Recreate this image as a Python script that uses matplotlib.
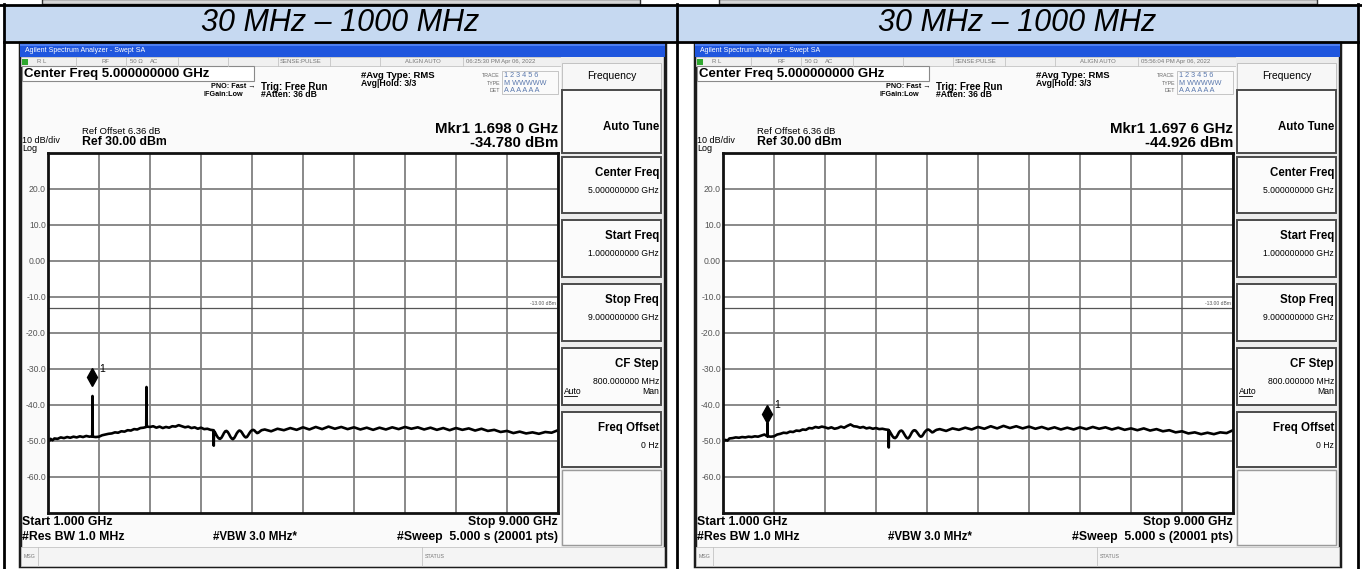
import numpy as np
import matplotlib
matplotlib.use('Agg')
import matplotlib.pyplot as plt
from matplotlib.patches import Rectangle

plt.rcParams['font.family'] = ['Liberation Sans', 'DejaVu Sans']

W, H = 1362, 569

header_text = '30 MHz \u2013 1000 MHz'
start_ghz, stop_ghz = 1.0, 9.0
ref_level, bottom_level = 30.0, -70.0
limit_line = -13.0
y_tick_values = [20, 10, 0, -10, -20, -30, -40, -50, -60]
y_tick_labels = ['20.0', '10.0', '0.00', '-10.0', '-20.0', '-30.0', '-40.0', '-50.0', '-60.0']

softkey_titles = ['Auto Tune', 'Center Freq', 'Start Freq', 'Stop Freq', 'CF Step', 'Freq Offset']
softkey_values = ['', '5.000000000 GHz', '1.000000000 GHz', '9.000000000 GHz', '800.000000 MHz', '0 Hz']

timestamps = ['06:25:30 PM Apr 06, 2022', '05:56:04 PM Apr 06, 2022']
mkr_freq_text = ['Mkr1 1.698 0 GHz', 'Mkr1 1.697 6 GHz']
mkr_level_text = ['-34.780 dBm', '-44.926 dBm']
mkr_freq = [1.6980, 1.6976]
mkr_level = [-34.780, -44.926]

# frequencies shared by both traces (GHz)
freq_low = [1.00, 1.02, 1.04, 1.07, 1.10, 1.15, 1.20, 1.25, 1.30, 1.35, 1.40, 1.45, 1.50, 1.55,
            1.60, 1.65, 1.694, 1.698, 1.702]
freq_ripple = [3.604, 3.62, 3.64, 3.66, 3.68, 3.70, 3.72, 3.74, 3.76, 3.78, 3.80, 3.82, 3.84, 3.86,
               3.88, 3.90, 3.92, 3.94, 3.96, 3.98, 4.00, 4.02, 4.04, 4.06, 4.08, 4.10, 4.12, 4.14,
               4.16, 4.18, 4.20, 4.22, 4.24, 4.26, 4.28, 4.30, 4.32, 4.35]
freq_high = [4.40, 4.50, 4.60, 4.70, 4.80, 4.90, 5.00, 5.10, 5.20, 5.30, 5.40, 5.50, 5.60, 5.70,
             5.80, 5.90, 6.00, 6.10, 6.20, 6.30, 6.40, 6.50, 6.60, 6.70, 6.80, 6.90, 7.00, 7.10,
             7.20, 7.30, 7.40, 7.50, 7.60, 7.70, 7.80, 7.90, 8.00, 8.10, 8.20, 8.30, 8.40, 8.50,
             8.60, 8.70, 8.80, 8.90, 9.00]

# left screenshot trace (dBm)
left_mid_freq = [1.75, 1.80, 1.85, 1.90, 1.95, 2.00, 2.05, 2.10, 2.15, 2.20, 2.25, 2.30, 2.35, 2.40,
                 2.45, 2.50, 2.541, 2.545, 2.549, 2.60, 2.65, 2.70, 2.75, 2.80, 2.85, 2.90, 2.95,
                 3.00, 3.05, 3.10, 3.15, 3.20, 3.25, 3.30, 3.35, 3.40, 3.45, 3.50, 3.55, 3.596, 3.600]
left_low = [-49.3, -50.0, -49.4, -49.8, -49.3, -49.4, -49.0, -49.2, -48.9, -49.1, -48.8, -49.0, -48.7, -48.9,
            -48.6, -48.8, -48.7, -37.5, -48.8]
left_mid = [-48.9, -48.8, -48.4, -48.2, -48.0, -47.9, -47.6, -47.7, -47.3, -47.4, -47.0, -47.1, -46.7, -46.8,
            -46.4, -46.3, -46.1, -35.0, -46.0, -46.1, -45.9, -46.3, -46.0, -46.4, -46.1, -46.3, -45.9,
            -46.0, -45.6, -45.9, -46.2, -46.0, -46.4, -46.2, -46.6, -46.3, -46.7, -46.6, -46.9, -47.0, -51.3]
left_ripple = [-47.2, -47.6, -48.3, -48.9, -49.3, -49.4, -49.1, -48.5, -47.8, -47.3, -47.2, -47.5, -48.1, -48.8,
               -49.3, -49.5, -49.2, -48.6, -47.9, -47.4, -47.1, -47.2, -47.6, -48.2, -48.7, -49.0, -48.9, -48.4,
               -47.8, -47.3, -47.0, -46.9, -47.1, -47.5, -47.8, -47.7, -47.4, -47.0]
left_high = [-46.8, -47.3, -46.6, -47.0, -46.4, -46.9, -46.2, -46.8, -46.1, -46.7, -46.0, -46.6, -46.1, -46.7,
             -46.2, -46.8, -46.3, -46.9, -46.3, -46.8, -46.2, -46.7, -46.1, -46.6, -46.2, -46.8, -46.3, -46.9,
             -46.4, -47.0, -46.4, -46.9, -46.5, -47.1, -46.6, -47.2, -46.9, -47.5, -47.2, -47.8, -47.4, -47.9,
             -47.6, -48.0, -47.5, -47.7, -47.0]

# right screenshot trace (dBm)
right_mid_freq = [1.75, 1.80, 1.85, 1.90, 1.95, 2.00, 2.05, 2.10, 2.15, 2.20, 2.25, 2.30, 2.35, 2.40,
                  2.45, 2.50, 2.55, 2.60, 2.65, 2.70, 2.75, 2.80, 2.85, 2.90, 2.95, 3.00, 3.05, 3.10,
                  3.15, 3.20, 3.25, 3.30, 3.35, 3.40, 3.45, 3.50, 3.55, 3.596, 3.600]
right_low = [-49.6, -50.0, -49.7, -49.9, -49.3, -49.2, -49.0, -49.1, -48.9, -49.0, -48.8, -48.9, -48.7, -48.8,
             -48.5, -48.2, -48.7, -45.0, -48.7]
right_mid = [-48.8, -48.7, -48.2, -48.0, -47.7, -47.8, -47.4, -47.5, -47.1, -47.2, -46.8, -46.9, -46.4, -46.5,
             -46.1, -46.3, -46.0, -46.2, -46.5, -46.2, -46.6, -46.4, -46.0, -46.3, -45.8, -45.4, -45.9, -46.0,
             -46.3, -46.1, -46.5, -46.3, -46.6, -46.4, -46.7, -46.6, -46.8, -46.9, -51.8]
right_ripple = [-47.1, -47.5, -48.1, -48.7, -49.1, -49.2, -48.9, -48.3, -47.6, -47.2, -47.1, -47.4, -48.0, -48.6,
                -49.1, -49.3, -49.0, -48.4, -47.7, -47.2, -47.0, -47.1, -47.5, -48.0, -48.5, -48.8, -48.7, -48.2,
                -47.6, -47.2, -46.9, -46.8, -47.0, -47.3, -47.6, -47.5, -47.2, -46.9]
right_high = [-46.7, -47.2, -46.5, -46.9, -46.3, -46.8, -46.1, -46.6, -45.9, -46.5, -45.8, -46.4, -45.9, -46.5,
              -46.0, -46.6, -46.1, -46.7, -46.2, -46.8, -46.3, -46.8, -46.2, -46.7, -46.1, -46.6, -46.2, -46.8,
              -46.3, -46.9, -46.5, -47.0, -46.5, -47.1, -46.7, -47.3, -47.0, -47.6, -47.3, -47.9, -47.6, -48.1,
              -47.7, -48.1, -47.6, -47.8, -47.0]

left_freq = freq_low + left_mid_freq + freq_ripple + freq_high
left_level = left_low + left_mid + left_ripple + left_high
right_freq = freq_low + right_mid_freq + freq_ripple + freq_high
right_level = right_low + right_mid + right_ripple + right_high
assert len(left_freq) == len(left_level) and len(right_freq) == len(right_level)
traces = [(left_freq, left_level), (right_freq, right_level)]


def draw_chrome(cv, dx, i):
    L, R = 20 + dx, 665 + dx
    cv.add_patch(Rectangle((L, 43), R - L, 523, fc='#fafafa', ec='#1c1c1c', lw=2.5))
    cv.add_patch(Rectangle((L, 43), R - L, 14, fc='#1f56de', ec='none'))
    cv.add_patch(Rectangle((L, 43), R - L, 3, fc='#4d7ef0', ec='none'))
    cv.text(L + 5, 50.5, 'Agilent Spectrum Analyzer - Swept SA', color='white', fontsize=5, va='center')

    # status row
    cv.add_patch(Rectangle((L + 1, 57), 540, 9, fc='#f0f0f0', ec='#c4c4c4', lw=0.6))
    cv.add_patch(Rectangle((L + 2, 58.5), 6, 6, fc='#2fa82f', ec='none'))
    for x, t in [(37, 'R L'), (102, 'RF'), (130, '50 \u03a9'), (150, 'AC'), (280, 'SENSE:PULSE'),
                 (405, 'ALIGN AUTO'), (466, timestamps[i])]:
        cv.text(x + dx, 61.8, t, fontsize=4.3, color='#777777', va='center')
    for x in [76, 126, 178, 228, 278, 330, 380, 463]:
        cv.plot([x + dx] * 2, [57, 66], color='#c4c4c4', lw=0.6)

    cv.add_patch(Rectangle((L + 2, 66), 232, 15, fc='white', ec='#8a8a8a', lw=0.8))
    cv.text(L + 4, 74, 'Center Freq 5.000000000 GHz', fontsize=9.5, weight='bold', va='center')
    cv.text(211 + dx, 86, 'PNO: Fast \u2192', fontsize=5.2, weight='bold', va='center')
    cv.text(204 + dx, 94, 'IFGain:Low', fontsize=5.2, weight='bold', va='center')
    cv.text(261 + dx, 87, 'Trig: Free Run', fontsize=7, weight='bold', va='center')
    cv.text(261 + dx, 94.5, '#Atten: 36 dB', fontsize=6.2, weight='bold', va='center')
    cv.text(361 + dx, 75.5, '#Avg Type: RMS', fontsize=6.8, weight='bold', va='center')
    cv.text(361 + dx, 83.5, 'Avg|Hold: 3/3', fontsize=6.2, weight='bold', va='center')

    cv.add_patch(Rectangle((502 + dx, 70.5), 56, 23, fc='none', ec='#b0b0b0', lw=0.5))
    for y, lab, val in [(75.5, 'TRACE', '1 2 3 4 5 6'), (83, 'TYPE', 'M WWWWW'), (90.5, 'DET', 'A A A A A A')]:
        cv.text(500 + dx, y, lab, fontsize=3.8, color='#666666', ha='right', va='center')
        cv.text(504 + dx, y, val, fontsize=5.2, color='#5a78ad', va='center')

    cv.text(558 + dx, 129, mkr_freq_text[i], fontsize=10.8, weight='bold', ha='right', va='center')
    cv.text(558 + dx, 142.5, mkr_level_text[i], fontsize=10.8, weight='bold', ha='right', va='center')
    cv.text(82 + dx, 131, 'Ref Offset 6.36 dB', fontsize=6.8, va='center')
    cv.text(82 + dx, 142, 'Ref 30.00 dBm', fontsize=8.8, weight='bold', va='center')
    cv.text(L + 2, 140, '10 dB/div', fontsize=6.5, va='center')
    cv.text(L + 2, 148.5, 'Log', fontsize=6.5, va='center')

    # softkey panel
    cv.add_patch(Rectangle((561 + dx, 57), 102, 508, fc='#ececec', ec='none'))
    cv.add_patch(Rectangle((562 + dx, 63), 99, 26, fc='#f7f7f7', ec='#bbbbbb', lw=0.6))
    cv.text(612 + dx, 76, 'Frequency', fontsize=7.5, ha='center', va='center')
    boxes = [(90, 153), (157, 213), (220, 277), (284, 341), (348, 405), (412, 467)]
    for (top, bot), title, val in zip(boxes, softkey_titles, softkey_values):
        cv.add_patch(Rectangle((562 + dx, top), 99, bot - top, fc='#fbfbfb', ec='#4a4a4a', lw=1.4))
        if val:
            cv.text(659 + dx, top + 16, title, fontsize=8.3, weight='bold', ha='right', va='center')
            cv.text(659 + dx, top + 33, val, fontsize=6.2, ha='right', va='center')
        else:
            cv.text(659 + dx, top + 37, title, fontsize=8.3, weight='bold', ha='right', va='center')
    cv.text(564 + dx, 391, 'Auto', fontsize=6.2, va='center')
    cv.plot([564 + dx, 577 + dx], [396, 396], color='black', lw=0.6)
    cv.text(659 + dx, 391, 'Man', fontsize=6.2, ha='right', va='center')
    cv.add_patch(Rectangle((562 + dx, 470), 99, 75, fc='#fbfbfb', ec='#9a9a9a', lw=1.0))

    # bottom annotation
    cv.text(L + 2, 522, 'Start 1.000 GHz', fontsize=8.8, weight='bold', va='center')
    cv.text(L + 2, 537, '#Res BW 1.0 MHz', fontsize=8.8, weight='bold', va='center')
    cv.text(213 + dx, 537, '#VBW 3.0 MHz*', fontsize=8.3, weight='bold', va='center')
    cv.text(558 + dx, 522, 'Stop 9.000 GHz', fontsize=8.8, weight='bold', ha='right', va='center')
    cv.text(558 + dx, 537, '#Sweep  5.000 s (20001 pts)', fontsize=8.8, weight='bold', ha='right', va='center')

    # message bar
    cv.add_patch(Rectangle((L + 1, 547), R - L - 2, 19, fc='#f4f4f4', ec='#c4c4c4', lw=0.6))
    cv.plot([38 + dx] * 2, [547, 566], color='#c4c4c4', lw=0.6)
    cv.plot([422 + dx] * 2, [547, 566], color='#c4c4c4', lw=0.6)
    cv.text(L + 4, 556, 'MSG', fontsize=3.8, color='#777777', va='center')
    cv.text(425 + dx, 556, 'STATUS', fontsize=3.8, color='#777777', va='center')


def draw_trace(fig, dx, i):
    ax = fig.add_axes([(48 + dx) / W, 1 - 513 / H, 510 / W, 360 / H])
    ax.set_facecolor('white')
    ax.set_xlim(start_ghz, stop_ghz)
    ax.set_ylim(bottom_level, ref_level)
    ax.set_xticks(np.linspace(start_ghz, stop_ghz, 11))
    ax.set_yticks(y_tick_values)
    ax.set_yticklabels(y_tick_labels)
    ax.tick_params(length=0, labelbottom=False, labelsize=6.2, labelcolor='#555555', pad=1.5)
    ax.grid(color='#808080', lw=1.3)
    for s in ax.spines.values():
        s.set_color('#111111')
        s.set_linewidth(2)
    ax.axhline(limit_line, color='#555555', lw=0.9)
    ax.text(stop_ghz - 0.04, limit_line + 0.6, '-13.00 dBm', fontsize=3.6, color='#555555',
            ha='right', va='bottom')
    f, lv = traces[i]
    ax.plot(f, lv, color='black', lw=1.9)
    ax.plot([mkr_freq[i]], [mkr_level[i] + 2.5], marker='d', ms=9, color='black', ls='none')
    ax.text(mkr_freq[i] + 0.1, mkr_level[i] + 4.8, '1', fontsize=7.5, va='center')
    return ax


fig = plt.figure(figsize=(W / 100, H / 100), dpi=100)
cv = fig.add_axes([0, 0, 1, 1])
cv.set_xlim(0, W)
cv.set_ylim(H, 0)
cv.axis('off')

# table framing
cv.add_patch(Rectangle((42, -1), 598, 5, fc='#d6d6d6', ec='#333333', lw=1))
cv.add_patch(Rectangle((719, -1), 598, 5, fc='#d6d6d6', ec='#333333', lw=1))
cv.add_patch(Rectangle((4, 4.5), 1354, 36.5, fc='#c6d9f1', ec='none'))
cv.plot([0, W], [4.5, 4.5], color='black', lw=2)
cv.plot([4, 1358], [41.5, 41.5], color='black', lw=2)
for x in [4, 677, 1358]:
    cv.plot([x, x], [4, H], color='black', lw=2)
cv.text(340, 23, header_text, fontsize=22, style='italic', ha='center', va='center')
cv.text(1017, 23, header_text, fontsize=22, style='italic', ha='center', va='center')

for i, dx in enumerate([0, 675]):
    draw_chrome(cv, dx, i)
    draw_trace(fig, dx, i)

fig.savefig('out.png', dpi=100)
